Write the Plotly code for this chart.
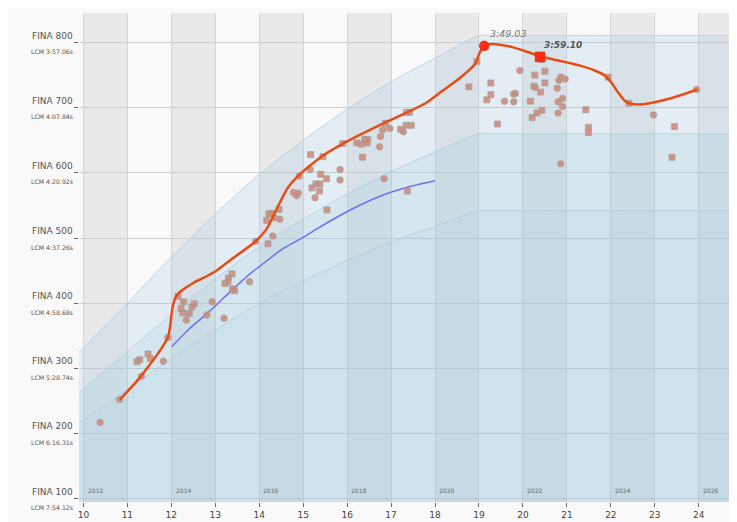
import plotly.graph_objects as go

# ---------------- data ----------------
fina_levels = [100, 200, 300, 400, 500, 600, 700, 800]
lcm_times = ["7:54.12s", "6:16.31s", "5:28.74s", "4:58.68s", "4:37.26s", "4:20.92s", "4:07.84s", "3:57.06s"]
age_ticks = list(range(10, 25))
season_starts = [10, 12, 14, 16, 18, 20, 22, 24]
season_years = ["2012", "2014", "2016", "2018", "2020", "2022", "2024", "2026"]

band_ages = [9.9, 11, 12, 13, 14, 15, 16, 17, 18, 19, 19.3, 25]
band_outer = [325, 400, 471, 537, 598, 650, 698, 740, 776, 811, 811, 811]
band_middle = [263, 326, 383, 437, 487, 529, 568, 602, 632, 660, 660, 660]
band_inner = [216, 267, 315, 359, 400, 434, 466, 494, 518, 542, 542, 542]

sq_age = [11.22, 11.28, 11.47, 11.52, 12.15, 12.28, 12.22, 12.26, 12.41, 12.47, 12.52,
          13.22, 13.29, 13.30, 13.38, 13.39, 13.44, 14.20, 14.17, 14.22, 14.29, 14.45,
          15.17, 15.45, 15.20, 15.29, 15.38, 15.37, 15.40, 15.53, 15.54, 15.90, 16.22,
          16.32, 16.40, 16.47, 16.45, 16.35, 16.87, 17.37, 17.22, 17.34, 17.46, 17.35,
          17.42, 18.77, 18.95, 20.27, 20.50, 19.27, 20.25, 20.50, 20.40, 19.27, 19.18,
          20.17, 20.43, 20.32, 20.21, 19.42, 21.43, 21.49, 21.49, 21.94, 22.41, 23.45,
          23.39, 20.43]
sq_fina = [310, 313, 322, 315, 410, 402, 392, 385, 384, 394, 399,
           430, 433, 439, 445, 422, 419, 491, 527, 537, 538, 544,
           628, 625, 577, 583, 583, 572, 598, 591, 543, 645, 646,
           644, 651, 651, 646, 624, 676, 572, 667, 673, 673, 693,
           693, 732, 771, 750, 756, 738, 733, 738, 724, 720, 712,
           710, 696, 692, 685, 675, 697, 670, 662, 747, 707, 671,
           624, 774]

ci_age = [10.38, 10.82, 11.32, 11.82, 11.92, 12.34, 12.81, 12.93, 13.20, 13.78, 13.92,
          14.31, 14.35, 14.47, 14.78, 14.85, 14.89, 14.91, 15.16, 15.27, 15.84, 15.84,
          16.74, 16.76, 16.81, 16.97, 16.84, 17.28, 19.93, 20.86, 20.82, 20.96, 20.78,
          19.83, 19.79, 19.58, 19.79, 20.90, 20.80, 20.90, 20.80, 20.86, 22.97, 23.95,
          20.28]
ci_fina = [217, 252, 288, 311, 347, 374, 382, 402, 377, 433, 495,
           503, 531, 529, 570, 565, 569, 595, 605, 562, 605, 589,
           640, 656, 666, 668, 591, 663, 757, 747, 742, 744, 730,
           722, 721, 710, 709, 714, 709, 702, 692, 614, 689, 728,
           731]

trend_age = [10.83, 11.31, 11.91, 11.97, 12.03, 12.12, 12.27, 12.50, 12.96, 13.34, 13.92,
             14.17, 14.40, 14.66, 14.93, 15.21, 15.46, 15.99, 16.73, 17.05, 17.81, 18.09,
             18.57, 18.91, 19.02, 19.14, 19.30, 19.76, 20.40, 21.28, 21.60, 21.85, 22.02,
             22.17, 22.35, 22.62, 23.17, 23.97]
trend_fina = [252, 288, 346, 363, 394, 412, 421, 431, 447, 466, 495,
              514, 545, 578, 598, 614, 627, 648, 673, 683, 708, 722,
              746, 767, 785, 796, 798, 793, 779, 765, 758, 750, 738,
              723, 709, 705, 711, 728]

ref_age = [12.01, 12.40, 12.81, 13.41, 13.79, 14.02, 14.55, 15.00, 15.31, 16.07, 16.82, 17.43, 18.00]
ref_fina = [333, 360, 384, 422, 445, 457, 484, 501, 514, 543, 566, 579, 588]

best_age, best_fina, best_label = 19.12, 795, "3:49.03"
recent_age, recent_fina, recent_label = 20.39, 778, "3:59.10"

# ---------------- figure ----------------
fig = go.Figure()

band_style = [
    (band_outer, "rgba(160,200,225,0.24)"),
    (band_middle, "rgba(150,195,220,0.17)"),
    (band_inner, "rgba(150,195,220,0.12)"),
]
for vals, col in band_style:
    fig.add_trace(go.Scatter(
        x=band_ages, y=vals, mode="lines", fill="tozeroy", fillcolor=col,
        line=dict(color="rgba(170,205,220,0.7)", width=1, shape="spline", smoothing=0.6),
        hoverinfo="skip", showlegend=False))

fig.add_trace(go.Scatter(
    x=ref_age, y=ref_fina, mode="lines",
    line=dict(color="#6e6ef2", width=1.5, shape="spline"),
    hoverinfo="skip", showlegend=False))

fig.add_trace(go.Scatter(
    x=sq_age, y=sq_fina, mode="markers",
    marker=dict(symbol="square", size=6, color="rgba(206,138,118,0.88)",
                line=dict(color="rgba(160,160,160,0.7)", width=1)),
    showlegend=False))
fig.add_trace(go.Scatter(
    x=ci_age, y=ci_fina, mode="markers",
    marker=dict(symbol="circle", size=6.5, color="rgba(206,138,118,0.88)",
                line=dict(color="rgba(160,160,160,0.7)", width=1)),
    showlegend=False))

fig.add_trace(go.Scatter(
    x=trend_age, y=trend_fina, mode="lines",
    line=dict(color="#e84b16", width=2.5, shape="spline", smoothing=0.9),
    hoverinfo="skip", showlegend=False))

fig.add_trace(go.Scatter(
    x=[best_age], y=[best_fina], mode="markers",
    marker=dict(symbol="circle", size=9.5, color="#ff2a10", line=dict(color="#e03010", width=1)),
    showlegend=False))
fig.add_trace(go.Scatter(
    x=[recent_age], y=[recent_fina], mode="markers",
    marker=dict(symbol="square", size=9.5, color="#ff2a10", line=dict(color="#e03010", width=1)),
    showlegend=False))

shapes = []
for s in season_starts:
    shapes.append(dict(type="rect", xref="x", yref="paper", x0=s, x1=s + 1, y0=0, y1=1,
                       fillcolor="#e9e9e9", line=dict(width=0), layer="below"))

ann = []
for lv, t in zip(fina_levels, lcm_times):
    ann.append(dict(xref="paper", yref="y", x=0, y=lv, xanchor="right", yanchor="middle",
                    xshift=-4.5, yshift=7, text="FINA %d" % lv, showarrow=False,
                    font=dict(family="DejaVu Sans", size=9, color="#555")))
    ann.append(dict(xref="paper", yref="y", x=0, y=lv, xanchor="right", yanchor="middle",
                    xshift=-4.5, yshift=-9, text="LCM " + t, showarrow=False,
                    font=dict(family="DejaVu Sans", size=6.2, color="#555")))
for s, yr in zip(season_starts, season_years):
    ann.append(dict(xref="x", yref="y", x=s + 0.05, y=113, xanchor="left", yanchor="middle",
                    text=yr, showarrow=False,
                    font=dict(family="DejaVu Sans", size=6, color="#666")))
ann.append(dict(x=best_age + 0.55, y=814, text="<i>" + best_label + "</i>", showarrow=False,
                font=dict(family="DejaVu Sans", size=9.5, color="#777")))
ann.append(dict(x=recent_age + 0.53, y=797, text="<b><i>" + recent_label + "</i></b>", showarrow=False,
                font=dict(family="DejaVu Sans", size=9, color="#555")))

# page body has an 8px margin; figure fills the rest of the 737x522 window
W, H = 729, 514
L, T, B = 71, 4.7, 20.3

fig.update_layout(
    width=W, height=H,
    margin=dict(l=L, r=0, t=T, b=B, pad=0),
    paper_bgcolor="#f9f9f9", plot_bgcolor="#f9f9f9",
    shapes=shapes, annotations=ann, showlegend=False,
    font=dict(family="DejaVu Sans"),
    xaxis=dict(range=[9.9, 24.87], tickvals=age_ticks, ticks="outside", ticklen=4,
               tickcolor="#666", tickfont=dict(size=9, color="#444"),
               showgrid=True, gridcolor="#d4d4d4", gridwidth=1,
               zeroline=False, showline=False, fixedrange=True),
    yaxis=dict(range=[94.8, 845.4], tickvals=fina_levels, ticks="outside", ticklen=4,
               tickcolor="#666", showticklabels=False,
               showgrid=True, gridcolor="#cdcdcd", gridwidth=1,
               zeroline=False, showline=False, fixedrange=True),
)

fig.write_html("out.html")
